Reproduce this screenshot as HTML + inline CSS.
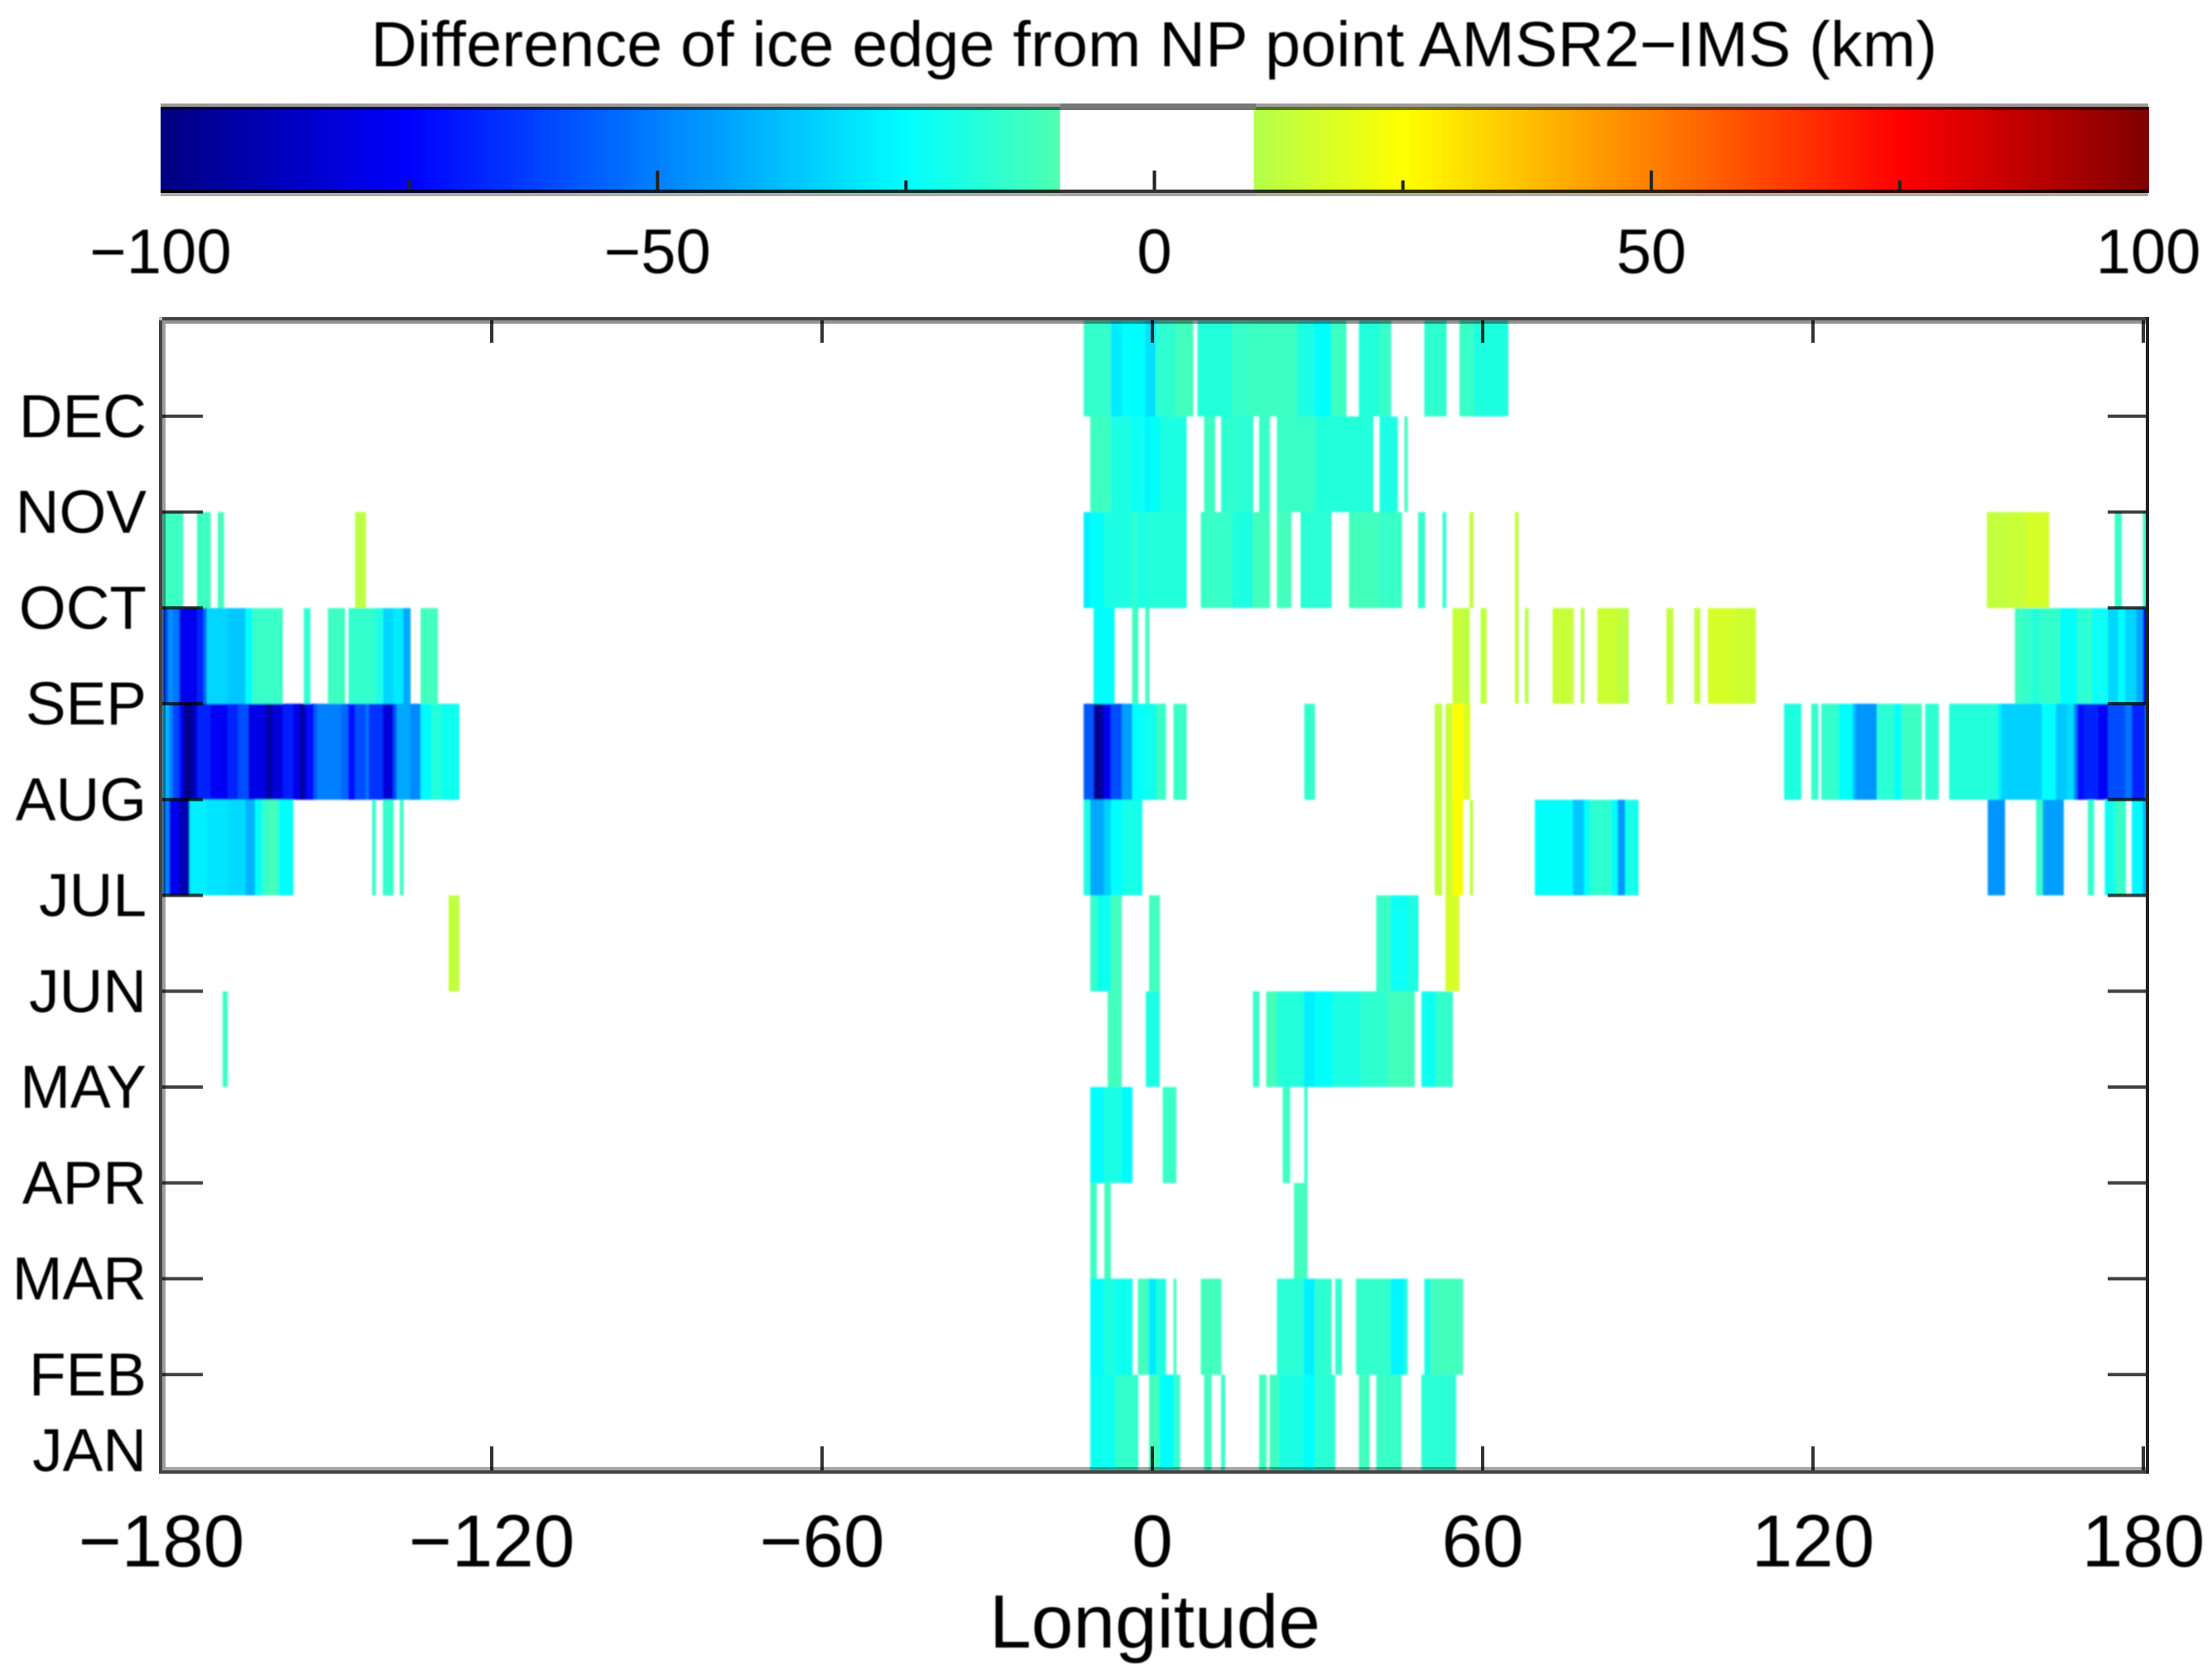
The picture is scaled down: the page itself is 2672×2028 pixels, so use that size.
<!DOCTYPE html>
<html lang="en">
<head>
<meta charset="utf-8">
<title>Difference of ice edge from NP point AMSR2−IMS (km)</title>
<style>
html,body{margin:0;padding:0;background:#fff;width:2672px;height:2028px;overflow:hidden}
svg{display:block}
text{font-family:"Liberation Sans",Arial,sans-serif;fill:#000}
</style>
</head>
<body>
<svg id="chart" xmlns="http://www.w3.org/2000/svg" width="2672" height="2028" viewBox="0 0 2672 2028">
  <defs>
    <filter id="soft" filterUnits="userSpaceOnUse" x="0" y="0" width="2672" height="2028"><feGaussianBlur stdDeviation="1"/></filter>
    <filter id="softText" filterUnits="userSpaceOnUse" x="0" y="0" width="2672" height="2028"><feGaussianBlur stdDeviation="0.7"/></filter>
  </defs>
  <rect x="0" y="0" width="2672" height="2028" fill="#fff"/>
  <text x="1394" y="80" font-size="77" text-anchor="middle" textLength="1892" lengthAdjust="spacing" filter="url(#softText)">Difference of ice edge from NP point AMSR2−IMS (km)</text>
  <g id="colorbar"></g>
  <g id="colorbar-ticks"></g>
  <g id="colorbar-labels" filter="url(#softText)"></g>
  <g id="heatmap" filter="url(#soft)"></g>
  <g id="axis-frame">
    <rect x="196" y="387" width="2400" height="4" fill="#000" fill-opacity="0.42"/>
    <rect x="196" y="383" width="2400" height="4" fill="#444"/>
    <rect x="192" y="383" width="4" height="4" fill="#bbb"/>
    <rect x="196" y="391" width="4" height="1389" fill="#000" fill-opacity="0.38"/>
    <rect x="192" y="387" width="4" height="1393" fill="#444"/>
    <rect x="200" y="1772" width="2392" height="4" fill="#000" fill-opacity="0.35"/>
    <rect x="192" y="1776" width="2404" height="4" fill="#444"/>
    <rect x="2592" y="383" width="4" height="1397" fill="#222"/>
  </g>
  <g id="axis-ticks"></g>
  <g id="axis-labels" filter="url(#softText)"></g>
  <text x="1395" y="1990" font-size="91" text-anchor="middle" filter="url(#softText)">Longitude</text>
</svg>
<script>
// Tick labels
const lonTicks = [-180, -120, -60, 0, 60, 120, 180];
const monthLabels = ["JAN", "FEB", "MAR", "APR", "MAY", "JUN", "JUL", "AUG", "SEP", "OCT", "NOV", "DEC"];
const colorbarMajor = [-100, -50, 0, 50, 100];
const colorbarMinor = [-75, -25, 25, 75];

// Cells per month row: [start longitude, end longitude, difference in km]
const janCells = [[-11.3,-6.8,-22],[-6.8,-2.6,-15],[-0.6,1.3,-12],[1.3,3.9,-24],[3.9,5,-14],[9.4,10.7,-13],[12.5,13.2,-14],[19.4,20.7,-13],[21.3,23.1,-13],[23.1,27.5,-20],[27.5,29.5,-25],[29.5,33.2,-17],[37.5,39.4,-12],[40.7,45.2,-14],[48.9,55.1,-17]];
const febCells = [[-11.3,-8.8,-24],[-8.8,-6.8,-19],[-6.8,-3.7,-22],[-2.6,-0.7,-12],[-0.7,0.7,-29],[0.7,2.4,-19],[3.8,4.3,-13],[8.8,12.5,-12],[22.6,27.5,-17],[27.5,29.5,-28],[29.5,32.5,-16],[33.2,34.4,-15],[37,43.3,-15],[43.3,45.8,-27],[45.8,46.3,-18],[49.4,50.6,-20],[50.6,56.4,-12]];
const marCells = [[-11.3,-10.1,-13],[-8.7,-7.6,-12],[25.7,28.1,-12]];
const aprCells = [[-11.3,-8.8,-25],[-8.8,-5.6,-20],[-5.6,-3.7,-26],[1.9,4.3,-14],[23.7,25,-13],[27.6,28.1,-15]];
const mayCells = [[-168.9,-168,-14],[-8.1,-5.6,-12],[-1.2,1.3,-20],[18.3,19.4,-14],[20.7,22.6,-12],[22.6,27.5,-18],[27.5,29.5,-28],[29.5,32.6,-24],[32.6,37.8,-20],[37.8,42.7,-16],[42.7,47.6,-12],[48.9,51.5,-22],[51.5,54.5,-15]];
const junCells = [[-127.8,-125.9,13],[-11.3,-10,-15],[-10,-7.5,-22],[-7.5,-5.6,-12],[-0.6,1.3,-12],[40.7,43.3,-14],[43.3,46.5,-23],[46.5,48.3,-19],[53.2,55.7,17]];
const julCells = [[-179.8,-178.6,-50],[-178.6,-176.8,-78],[-176.8,-174.9,-90],[-174.9,-171.8,-28],[-171.8,-168,-30],[-168,-164.7,-32],[-164.7,-163,-40],[-163,-161.7,-24],[-161.7,-160.5,-14],[-160.5,-159.2,-11],[-159.2,-158.6,-16],[-158.6,-156.1,-24],[-141.7,-141.1,-15],[-139.8,-137.9,-15],[-136.7,-136.1,-14],[-12.5,-11.3,-20],[-11.3,-8.8,-42],[-8.8,-7.5,-34],[-7.5,-5.6,-25],[-5.6,-1.9,-21],[51.3,52.6,13],[53.2,54.5,15],[54.5,56.4,24],[57.7,58.2,13],[69.5,76.4,-24],[76.4,78.4,-36],[78.4,79.5,-25],[79.5,83.4,-16],[83.4,84.5,-24],[84.5,85.9,-45],[85.9,88.3,-21],[151.7,154.8,-46],[160.5,161.7,-14],[161.7,165.5,-44],[169.9,171,-15],[173,174.8,-22],[174.8,176.8,-14],[177.9,179.9,-26],[179.9,180.6,-40]];
const augCells = [[-179.8,-178.6,-40],[-178.6,-177.9,-50],[-177.9,-176.8,-62],[-176.8,-176,-75],[-176,-174.3,-97],[-174.3,-173.5,-85],[-173.5,-171.1,-68],[-171.1,-168,-77],[-168,-166.1,-68],[-166.1,-164.2,-60],[-164.2,-161.1,-80],[-161.1,-159.8,-92],[-159.8,-158,-82],[-158,-156.1,-70],[-156.1,-154.8,-80],[-154.8,-154.2,-97],[-154.2,-153.6,-85],[-153.6,-152.3,-73],[-152.3,-151.7,-58],[-151.7,-147.3,-50],[-147.3,-146.1,-55],[-146.1,-144.8,-72],[-144.8,-142.9,-60],[-142.9,-142.3,-52],[-142.3,-139.8,-65],[-139.8,-137.9,-82],[-137.9,-137.3,-60],[-137.3,-134.8,-42],[-134.8,-132.9,-48],[-132.9,-131,-26],[-131,-129.2,-18],[-129.2,-125.9,-22],[-12.5,-10.7,-58],[-10.7,-8.8,-95],[-8.8,-7.5,-78],[-7.5,-5.6,-60],[-5.6,-3.7,-44],[-3.7,-1.9,-25],[-1.9,0.6,-22],[0.6,2.4,-14],[3.8,6.2,-14],[27.6,29.5,-15],[51.3,52.6,12],[53.2,54.5,14],[54.5,56.5,25],[56.5,57.7,18],[114.7,117.8,-19],[119.7,120.9,-15],[121.5,124.7,-15],[124.7,127.2,-24],[127.2,127.8,-38],[127.8,131.6,-46],[131.6,134.8,-17],[134.8,136.1,-24],[136.1,139.7,-13],[140.4,142.8,-16],[144.7,153.6,-18],[153.6,154.2,-28],[154.2,161.6,-34],[161.6,164.1,-25],[164.1,166.1,-36],[166.1,167.4,-32],[167.4,168,-50],[168,169.2,-72],[169.2,171.8,-68],[171.8,173.6,-77],[173.6,176.7,-60],[176.7,177.9,-52],[177.9,180.4,-68],[180.4,180.6,-50]];
const sepCells = [[-179.8,-178.8,-60],[-178.8,-177.9,-47],[-177.9,-176.8,-52],[-176.8,-173.5,-78],[-173.5,-172.4,-68],[-172.4,-171.8,-55],[-171.8,-168,-33],[-168,-164.7,-36],[-164.7,-163.5,-25],[-163.5,-158,-14],[-154.1,-153,-16],[-149.8,-146.7,-13],[-146,-141.1,-15],[-141.1,-139.7,-20],[-139.7,-137.9,-33],[-137.9,-136.1,-29],[-136.1,-134.8,-42],[-132.9,-129.8,-12],[-10.7,-6.9,-24],[-3.7,-2.6,-13],[-1.3,-0.6,-13],[54.5,56.3,14],[56.3,57.6,12],[59.6,60.7,12],[65.9,66.5,12],[67.7,68.3,11],[72.7,76.5,14],[77.8,78.4,11],[80.8,84.5,15],[84.5,86.5,12],[93.4,94.6,13],[98.4,99.5,13],[100.9,105.9,17],[105.9,109.6,15],[156.7,158.1,-13],[158.1,159.9,-15],[159.9,161.1,-18],[161.1,164.9,-15],[164.9,168,-24],[168,169.9,-17],[169.9,170.5,-14],[170.5,173.6,-23],[173.6,175.4,-33],[175.4,176.7,-25],[176.7,178.7,-33],[178.7,179.9,-42],[179.9,180.6,-75]];
const octCells = [[-179.8,-176.1,-13],[-173.5,-171.1,-13],[-169.8,-168.7,-12],[-144.8,-142.9,12],[-12.5,-11.3,-28],[-11.3,-8.8,-24],[-8.8,-3.9,-20],[-3.9,-2.6,-16],[-2.6,-1.3,-20],[-1.3,6.2,-18],[8.8,14.5,-14],[14.5,18.3,-19],[18.3,21.3,-12],[22.6,25.2,-12],[26.9,32.5,-17],[35.7,41.3,-12],[41.3,45.3,-14],[48.3,49.5,-15],[52.7,53.3,-16],[57.6,58.3,13],[65.9,66.5,12],[151.6,154.9,13],[154.9,158.6,14],[158.6,162.9,17],[174.8,176,-14],[179.9,180.6,-14]];
const novCells = [[-11.3,-7.5,-13],[-7.5,-3.9,-20],[-3.9,-1.3,-23],[-1.3,-0.44,-27],[-0.44,1.46,-24],[1.46,6.2,-19],[9.4,11.4,-13],[12.5,15.7,-16],[15.7,18.3,-17],[19.4,21.3,-14],[22.6,29.8,-14],[29.8,40.1,-18],[41.3,44.5,-20],[45.8,46.3,-13]];
const decCells = [[-12.5,-7.5,-15],[-7.5,-5.6,-29],[-5.6,-1.3,-25],[-1.3,0.6,-31],[0.6,4.2,-16],[4.2,7.4,-12],[8.2,14.5,-18],[14.5,17.7,-14],[17.7,26.3,-13],[26.3,29.5,-20],[29.5,32.5,-25],[32.5,35.2,-13],[37.5,41.3,-18],[41.3,43.3,-14],[49.4,53.4,-16],[55.8,58.5,-14],[58.5,64.6,-19]];

const monthCells = [janCells, febCells, marCells, aprCells, mayCells, junCells, julCells, augCells, sepCells, octCells, novCells, decCells];

const SVGNS = "http://www.w3.org/2000/svg";
function xLon(lon) { return 1392 + lon * 6.65; }
function yMonth(m) { return 1776 - m * 115.75; }
function xBar(v) { return 1394.5 + v * 12.005; }
function jet(v) {
  const t = (v + 100) / 200;
  const c = function (d) { return Math.round(255 * Math.max(0, Math.min(1, 1.5 - Math.abs(4 * t - d)))); };
  return "rgb(" + c(3) + "," + c(2) + "," + c(1) + ")";
}
function shape(parent, tag, attrs) {
  const el = document.createElementNS(SVGNS, tag);
  for (const k in attrs) el.setAttribute(k, attrs[k]);
  parent.appendChild(el);
  return el;
}

// Colorbar gradient
const barGroup = document.getElementById("colorbar");
for (let v = -100; v < 100; v += 0.5) {
  const blank = v >= -9.5 && v < 10;
  const slice = shape(barGroup, "rect", { x: xBar(v), y: 129, width: blank ? 6 : 7, height: 104, fill: blank ? "#fff" : jet(v + 0.25) });
  
  
}
const barEdges = [
  [194, 125, 2401, 4, "#a09a98", 1],
  [194, 129, 2401, 4, "#000", 0.55],
  [1281, 125, 236, 8, "#777", 1],
  [194, 229, 2401, 4, "#000", 0.8],
  [194, 233, 2401, 4, "#aeaaa4", 1],
  [1281, 229, 236, 4, "#333", 1],
  [1281, 233, 236, 4, "#a5a5a5", 1]
];
barEdges.forEach(function (e) {
  const edge = shape(barGroup, "rect", { x: e[0], y: e[1], width: e[2], height: e[3], fill: e[4], "fill-opacity": e[5] });
  
  
});

// Colorbar ticks and labels
const barTicks = document.getElementById("colorbar-ticks");
const barLabels = document.getElementById("colorbar-labels");
colorbarMinor.forEach(function (v) {
  const tick = shape(barTicks, "rect", { x: xBar(v) - 2, y: 218, width: 4, height: 11, fill: "#222" });
  
  
});
colorbarMajor.forEach(function (v) {
  if (Math.abs(v) < 100) {
    const tick = shape(barTicks, "rect", { x: xBar(v) - 2, y: 206, width: 4, height: 23, fill: "#222" });
    
    
  }
  const label = shape(barLabels, "text", { x: xBar(v), y: 330, "font-size": 76, "text-anchor": "middle" });
  label.textContent = String(v).replace("-", "\u2212");
  
  
});

// Heatmap cells
const heat = document.getElementById("heatmap");
monthCells.forEach(function (cells, m) {
  cells.forEach(function (cell) {
    const rect = shape(heat, "rect", {
      x: xLon(cell[0]),
      y: yMonth(m + 1),
      width: xLon(cell[1]) - xLon(cell[0]) + 0.4,
      height: yMonth(m) - yMonth(m + 1),
      fill: jet(cell[2]),
      "shape-rendering": "crispEdges"
    });
    
    
  });
});

// Axis ticks and labels
const ticks = document.getElementById("axis-ticks");
const axisLabels = document.getElementById("axis-labels");
lonTicks.forEach(function (lon) {
  const x = xLon(lon);
  if (lon !== -180) {
    const top = shape(ticks, "rect", { x: x - 2, y: 387, width: 4, height: 27, fill: "#000", "fill-opacity": 0.8 });
    
    
    const bottom = shape(ticks, "rect", { x: x - 2, y: 1747, width: 4, height: 29, fill: "#000", "fill-opacity": 0.8 });
    
    
  }
  const label = shape(axisLabels, "text", { x: x, y: 1892, "font-size": 89, "text-anchor": "middle" });
  label.textContent = String(lon).replace("-", "\u2212");
  
  
});
monthLabels.forEach(function (name, m) {
  const y = yMonth(m);
  if (m > 0) {
    const left = shape(ticks, "rect", { x: 196, y: y - 2, width: 49, height: 4, fill: "#000", "fill-opacity": 0.75 });
    
    
    const right = shape(ticks, "rect", { x: 2546, y: y - 2, width: 46, height: 4, fill: "#000", "fill-opacity": 0.75 });
    
    
  }
  const label = shape(axisLabels, "text", { x: 177, y: m === 0 ? y + 1 : y + 25, "font-size": 73, "text-anchor": "end" });
  label.textContent = name;
  
  
});
</script>
</body>
</html>
